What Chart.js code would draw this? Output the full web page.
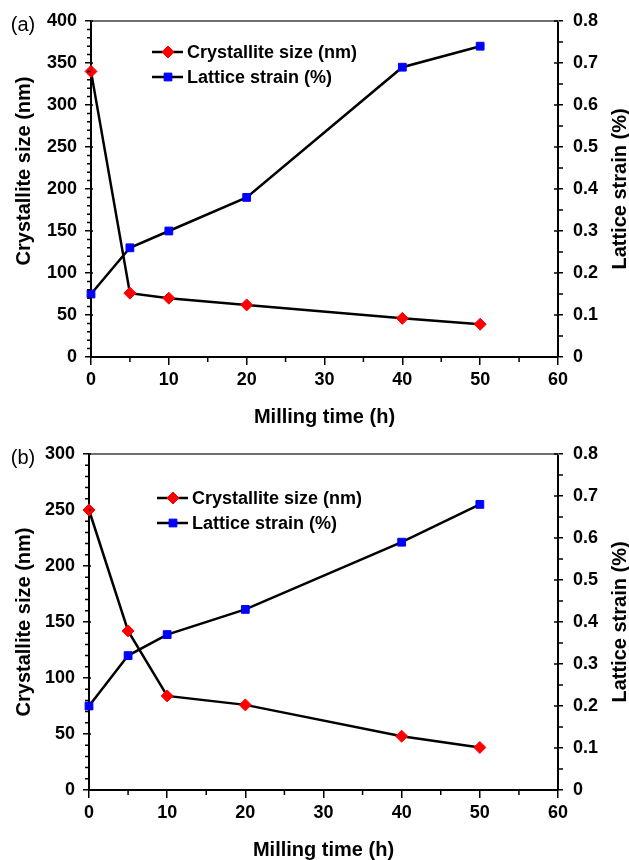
<!DOCTYPE html>
<html>
<head>
<meta charset="utf-8">
<script src="https://cdn.jsdelivr.net/npm/chart.js@4.4.0/dist/chart.umd.min.js"></script>
<style>
  html, body { margin: 0; padding: 0; background: #fff; overflow: hidden; }
  .panel { position: absolute; left: 0; width: 629px; height: 430px; }
</style>
</head>
<body>
<div class="panel" style="top:0"><canvas id="chartA" width="629" height="430"></canvas></div>
<div class="panel" style="top:433px"><canvas id="chartB" width="629" height="430"></canvas></div>
<script>
// data
var millingTime = [0, 5, 10, 20, 40, 50];
var sizeA = [340, 76, 70, 62, 46, 39];
var strainA = [0.15, 0.26, 0.30, 0.38, 0.69, 0.74];
var sizeB = [250, 142, 84, 76, 48, 38];
var strainB = [0.20, 0.32, 0.37, 0.43, 0.59, 0.68];

var seriesNames = ['Crystallite size (nm)', 'Lattice strain (%)'];
var xTitle = 'Milling time (h)';
var yTitle = 'Crystallite size (nm)';
var y2Title = 'Lattice strain (%)';

var FONT = "'Liberation Sans', Arial, sans-serif";
Chart.defaults.font.family = FONT;
Chart.defaults.color = '#000';

function points(ys) {
  return millingTime.map(function(t, i) { return { x: t, y: ys[i] }; });
}

// extra drawing: frame top, minor ticks, titles, inside legend, panel letter
var decor = {
  id: 'decor',
  afterDraw: function(chart, args, opts) {
    var ctx = chart.ctx, a = chart.chartArea;
    var x = chart.scales.x, y = chart.scales.y, y2 = chart.scales.y2;
    var i, p;
    ctx.save();

    ctx.strokeStyle = '#707070';
    ctx.lineWidth = 2;
    ctx.beginPath();
    ctx.moveTo(a.left, a.top);
    ctx.lineTo(a.right + 1, a.top);
    ctx.stroke();

    ctx.strokeStyle = '#000';
    ctx.lineWidth = 1.5;
    ctx.beginPath();
    for (i = 0; i <= y.max; i += 10) {
      p = y.getPixelForValue(i);
      if (i % 50) { ctx.moveTo(a.left - 4, p); ctx.lineTo(a.left, p); }
      else { ctx.moveTo(a.left, p); ctx.lineTo(a.left + 2, p); }
    }
    for (i = 0; i <= 16; i++) {
      p = y2.getPixelForValue(i * 0.05);
      if (i % 2) { ctx.moveTo(a.right, p); ctx.lineTo(a.right + 5, p); }
      else { ctx.moveTo(a.right - 4, p); ctx.lineTo(a.right, p); }
    }
    for (i = 5; i < 60; i += 10) {
      p = x.getPixelForValue(i);
      ctx.moveTo(p, a.bottom); ctx.lineTo(p, a.bottom + 5);
    }
    ctx.stroke();

    ctx.fillStyle = '#000';
    ctx.textAlign = 'center';
    ctx.textBaseline = 'middle';
    ctx.font = 'bold 20px ' + FONT;
    ctx.save();
    ctx.translate(24, opts.yTitleY);
    ctx.rotate(-Math.PI / 2);
    ctx.fillText(yTitle, 0, 0);
    ctx.restore();
    ctx.save();
    ctx.translate(620, (a.top + a.bottom) / 2);
    ctx.rotate(-Math.PI / 2);
    ctx.fillText(y2Title, 0, 0);
    ctx.restore();

    ctx.font = '20px ' + FONT;
    ctx.fillText(opts.letter, 23, 25);

    // legend inside the plot
    ctx.font = 'bold 18px ' + FONT;
    ctx.textAlign = 'left';
    chart.data.datasets.forEach(function(ds, k) {
      var ly = opts.legendY + k * 25, lx = opts.legendX;
      ctx.strokeStyle = '#000';
      ctx.lineWidth = 2.5;
      ctx.beginPath();
      ctx.moveTo(lx, ly);
      ctx.lineTo(lx + 31, ly);
      ctx.stroke();
      ctx.fillStyle = ds.pointBackgroundColor;
      ctx.strokeStyle = ds.pointBorderColor;
      ctx.lineWidth = 1;
      Chart.helpers.drawPoint(ctx, { pointStyle: ds.pointStyle, radius: ds.pointRadius, rotation: 0, borderWidth: 1 }, lx + 16, ly);
      ctx.fillStyle = '#000';
      ctx.fillText(ds.label, lx + 35, ly + 1);
    });

    ctx.restore();
  }
};

function makeChart(id, sizes, strains, sizeMax, leftWidth, extra) {
  return new Chart(document.getElementById(id), {
    type: 'scatter',
    data: {
      datasets: [{
        label: seriesNames[0],
        data: points(sizes),
        yAxisID: 'y',
        showLine: true,
        clip: false,
        borderColor: '#000',
        borderWidth: 2.5,
        pointStyle: 'rectRot',
        pointRadius: 6,
        pointBackgroundColor: '#ff0000',
        pointBorderColor: '#ff0000',
        pointBorderWidth: 1
      }, {
        label: seriesNames[1],
        data: points(strains),
        yAxisID: 'y2',
        showLine: true,
        clip: false,
        borderColor: '#000',
        borderWidth: 2.5,
        pointStyle: 'rect',
        pointRadius: 5.5,
        pointBackgroundColor: '#0000ff',
        pointBorderColor: '#0000ff',
        pointBorderWidth: 1
      }]
    },
    options: {
      responsive: false,
      animation: false,
      layout: { padding: { top: 21 } },
      plugins: {
        legend: { display: false },
        tooltip: { enabled: false },
        decor: extra
      },
      scales: {
        x: {
          type: 'linear',
          position: 'bottom',
          min: 0, max: 60,
          ticks: { stepSize: 10, padding: 4, font: { size: 18, weight: 'bold' } },
          grid: { drawOnChartArea: false, tickLength: 8, color: '#000', lineWidth: 1.5 },
          border: { color: '#000', width: 2 },
          title: { display: true, text: xTitle, font: { size: 20, weight: 'bold' }, padding: { top: 0, bottom: 1 } },
          afterFit: function(s) { s.height = 73; }
        },
        y: {
          position: 'left',
          min: 0, max: sizeMax,
          ticks: { stepSize: 50, padding: 8, font: { size: 18, weight: 'bold' } },
          grid: { drawOnChartArea: false, tickLength: 6, color: '#000', lineWidth: 1.5 },
          border: { color: '#000', width: 2 },
          afterFit: function(s) { s.width = leftWidth; }
        },
        y2: {
          position: 'right',
          min: 0, max: 0.8,
          ticks: { stepSize: 0.1, padding: 10, font: { size: 18, weight: 'bold' } },
          grid: { drawOnChartArea: false, tickLength: 5, color: '#000', lineWidth: 1.5 },
          border: { color: '#000', width: 2 },
          afterFit: function(s) { s.width = 71; }
        }
      }
    },
    plugins: [decor]
  });
}

makeChart('chartA', sizeA, strainA, 400, 91, { letter: '(a)', legendX: 152, legendY: 52, yTitleY: 171 });
makeChart('chartB', sizeB, strainB, 300, 89, { letter: '(b)', legendX: 157, legendY: 65, yTitleY: 189 });
</script>
</body>
</html>
